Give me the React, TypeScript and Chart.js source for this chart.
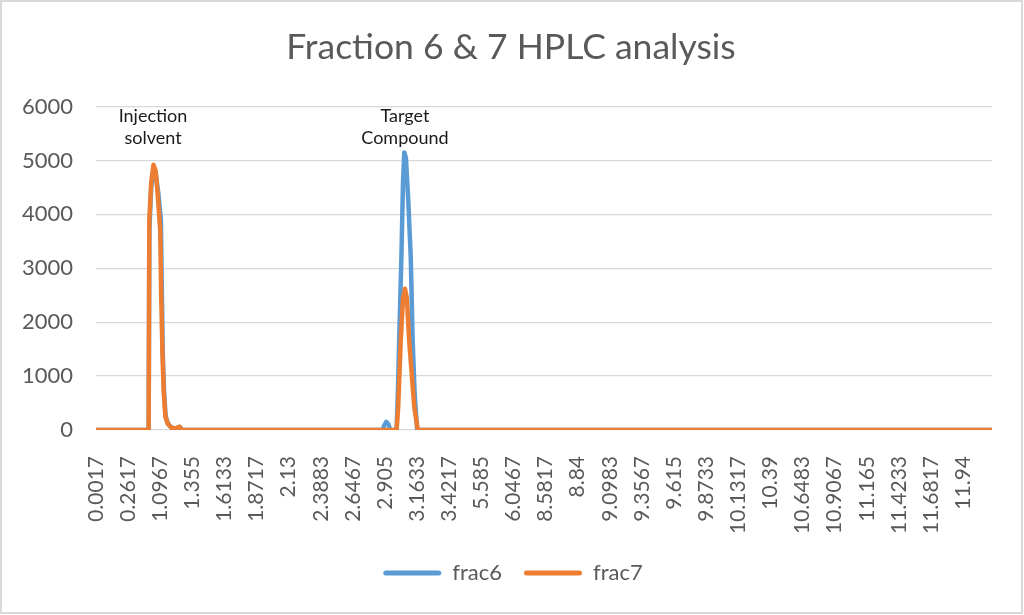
import React, { useEffect, useRef } from 'react';
import { Chart, registerables } from 'chart.js';

Chart.register(...registerables);

// Category labels shown on the x axis (retention time, min) — one every 10 samples
const tickLabels = [
  '0.0017', '0.2617', '1.0967', '1.355', '1.6133', '1.8717', '2.13', '2.3883', '2.6467', '2.905',
  '3.1633', '3.4217', '5.585', '6.0467', '8.5817', '8.84', '9.0983', '9.3567', '9.615', '9.8733',
  '10.1317', '10.39', '10.6483', '10.9067', '11.165', '11.4233', '11.6817', '11.94',
];
const samplesPerLabel = 10;
const lastSample = 279;

// frac6 trace: sample index and detector response
const frac6Samples = [
  0, 16.4, 16.6, 17.2, 17.9, 18.6, 19.4, 20.2, 20.5, 20.8, 21.2, 21.7, 22.4, 23.5, 25.0, 26.0, 26.8,
  89.2, 89.8, 90.4, 91.0, 91.7,
  93.6, 94.0, 94.4, 95.1, 95.6, 96.0, 96.5, 97.2, 98.0, 98.6, 99.2, 100.0,
  279,
];
const frac6Values = [
  0, 0, 3700, 4500, 4850, 4750, 4400, 3900, 2600, 1400, 700, 250, 120, 40, 30, 60, 0,
  0, 90, 150, 110, 0,
  0, 700, 1670, 3220, 4600, 5150, 5050, 4300, 3220, 1670, 700, 0,
  0,
];

// frac7 trace: sample index and detector response
const frac7Samples = [
  0, 16.4, 16.6, 17.2, 17.9, 18.6, 19.3, 20.0, 20.3, 20.7, 21.1, 21.6, 22.3, 23.5, 25.0, 26.0, 26.8,
  93.6, 94.1, 94.9, 95.6, 96.2, 96.8, 97.5, 99.1, 100.2,
  279,
];
const frac7Values = [
  0, 0, 3900, 4600, 4920, 4800, 4300, 3700, 2500, 1400, 700, 250, 120, 40, 30, 60, 0,
  0, 430, 1670, 2450, 2620, 2450, 1670, 430, 0,
  0,
];

// Peak annotations
const noteTexts = [['Injection', 'solvent'], ['Target', 'Compound']];
const noteSamples = [17.75, 96.2];
const noteValues = [5830, 5830];

const FONT = 'Lato, "Open Sans", sans-serif';

const framePlugin = {
  id: 'frame',
  beforeDraw(chart: any) {
    const { ctx, width, height } = chart;
    ctx.save();
    ctx.fillStyle = '#ffffff';
    ctx.fillRect(0, 0, width, height);
    ctx.restore();
  },
  afterDraw(chart: any) {
    const { ctx, width, height } = chart;
    ctx.save();
    ctx.strokeStyle = '#d9d9d9';
    ctx.lineWidth = 2;
    ctx.strokeRect(1, 1, width - 3, height - 3);
    ctx.restore();
  },
};

// nudge the title and legend blocks so they are centred like the original
const centerPlugin = {
  id: 'centerBlocks',
  afterLayout(chart: any) {
    if (chart.legend) {
      chart.legend.left += 8;
      chart.legend.right += 8;
    }
    if (chart.titleBlock) {
      chart.titleBlock.left += 6;
      chart.titleBlock.right += 6;
    }
  },
};

const notesPlugin = {
  id: 'peakNotes',
  afterDatasetsDraw(chart: any) {
    const { ctx, scales } = chart;
    const x = scales.x;
    const y = scales.y;
    ctx.save();
    ctx.font = `18px ${FONT}`;
    ctx.fillStyle = '#1a1a1a';
    ctx.textAlign = 'center';
    ctx.textBaseline = 'middle';
    noteTexts.forEach((lines, k) => {
      const px = x.getPixelForValue(noteSamples[k]);
      const py = y.getPixelForValue(noteValues[k]);
      lines.forEach((line, j) => ctx.fillText(line, px, py + j * 22));
    });
    ctx.restore();
  },
};

export default function App() {
  const canvasRef = useRef<HTMLCanvasElement | null>(null);

  useEffect(() => {
    if (!canvasRef.current) return;
    const toPoints = (xs: number[], ys: number[]) => xs.map((v, i) => ({ x: v, y: ys[i] }));
    const chart = new Chart(canvasRef.current, {
      type: 'line',
      data: {
        datasets: [
          {
            label: 'frac6',
            data: toPoints(frac6Samples, frac6Values),
            borderColor: '#5b9bd5',
            backgroundColor: '#5b9bd5',
            borderWidth: 4.5,
            pointRadius: 0,
            tension: 0,
            borderJoinStyle: 'round',
            borderCapStyle: 'round',
            order: 1,
          },
          {
            label: 'frac7',
            data: toPoints(frac7Samples, frac7Values),
            borderColor: '#ed7d31',
            backgroundColor: '#ed7d31',
            borderWidth: 4.5,
            pointRadius: 0,
            tension: 0,
            borderJoinStyle: 'round',
            borderCapStyle: 'round',
            order: 0,
          },
        ],
      },
      options: {
        animation: false,
        responsive: false,
        maintainAspectRatio: false,
        layout: { padding: { left: 18, right: 32, top: 0, bottom: 21 } },
        scales: {
          x: {
            type: 'linear',
            min: 0,
            max: lastSample,
            grid: { display: false },
            border: { display: false },
            afterBuildTicks: (scale: any) => {
              scale.ticks = tickLabels.map((_, i) => ({ value: i * samplesPerLabel }));
            },
            afterFit: (scale: any) => {
              scale.height = 110;
            },
            ticks: {
              autoSkip: false,
              minRotation: 90,
              maxRotation: 90,
              padding: 18,
              color: '#595959',
              font: { family: FONT, size: 21 },
              callback: (value: any) => tickLabels[Math.round(Number(value) / samplesPerLabel)] ?? '',
            },
          },
          y: {
            min: 0,
            max: 6000,
            grid: { color: '#d9d9d9', lineWidth: 1.3, drawTicks: false },
            border: { display: false },
            afterFit: (scale: any) => {
              scale.width = 78;
            },
            ticks: {
              stepSize: 1000,
              padding: 23,
              color: '#595959',
              font: { family: FONT, size: 22 },
              callback: (value: any) => String(value),
            },
          },
        },
        plugins: {
          title: {
            display: true,
            text: 'Fraction 6 & 7 HPLC analysis',
            color: '#595959',
            font: { family: FONT, size: 35.5, weight: 'normal' },
            padding: { top: 26, bottom: 38 },
          },
          legend: {
            position: 'bottom',
            labels: {
              color: '#595959',
              font: { family: FONT, size: 22 },
              boxWidth: 58,
              boxHeight: 5,
              padding: 22,
              useBorderRadius: true,
              borderRadius: 2.5,
              sort: (a: any, b: any) => a.datasetIndex - b.datasetIndex,
              generateLabels: (chart: any) =>
                (Chart.defaults.plugins.legend.labels as any)
                  .generateLabels(chart)
                  .map((l: any) => ({ ...l, lineWidth: 0, fillStyle: l.strokeStyle })),
            },
          },
          tooltip: { enabled: false },
        },
      },
      plugins: [framePlugin, centerPlugin, notesPlugin],
    } as any);
    return () => chart.destroy();
  }, []);

  return (
    <div style={{ position: 'absolute', left: 0, top: 0, width: 1024, height: 615 }}>
      <canvas ref={canvasRef} width={1024} height={615} style={{ display: 'block' }} />
    </div>
  );
}
